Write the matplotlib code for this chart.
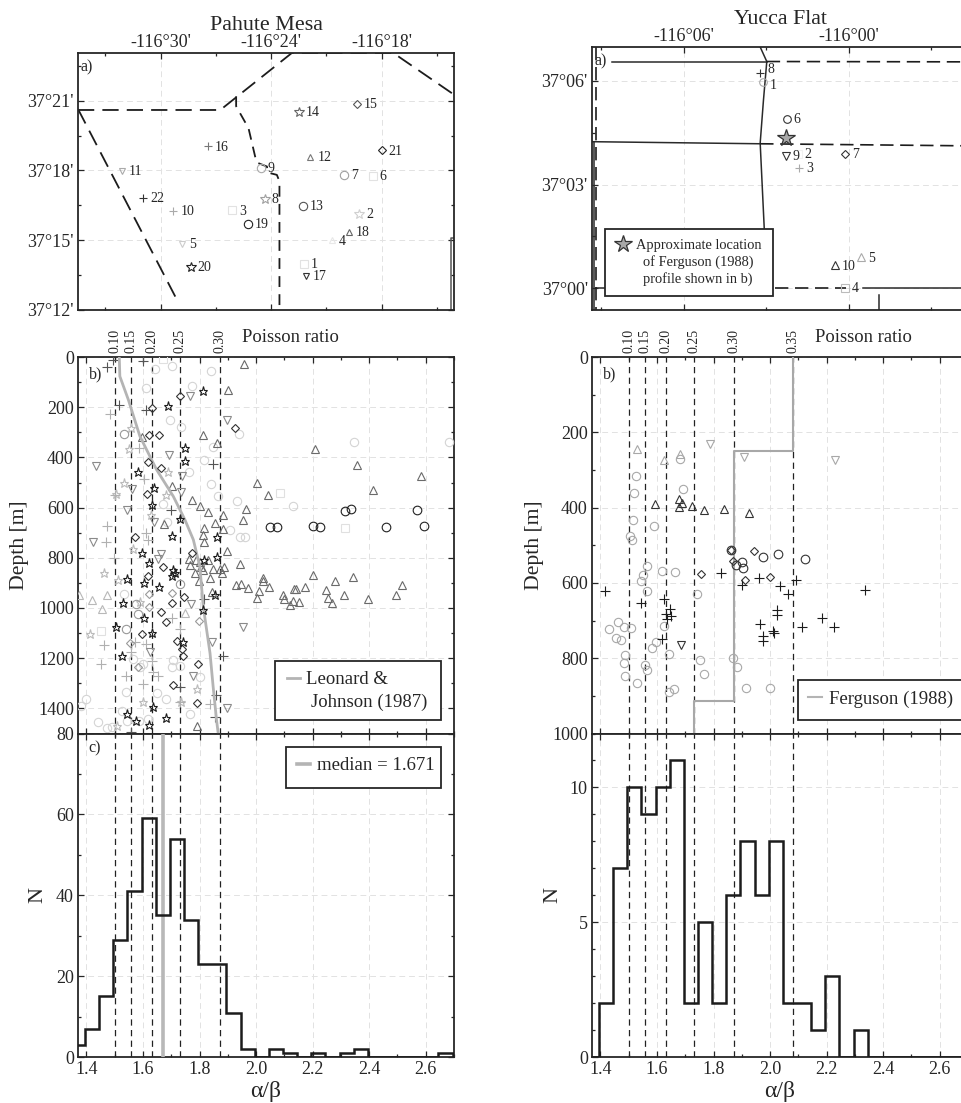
import matplotlib
matplotlib.use('Agg')
import matplotlib.pyplot as plt
from matplotlib.patches import Rectangle
from matplotlib.lines import Line2D
from matplotlib.ticker import FixedLocator, MultipleLocator, NullFormatter

plt.rcParams['font.family'] = ['Liberation Serif', 'DejaVu Serif']
plt.rcParams['text.color'] = '#262626'
plt.rcParams['axes.labelcolor'] = '#262626'
plt.rcParams['xtick.color'] = '#262626'
plt.rcParams['ytick.color'] = '#262626'

W, H = 961, 1103

# ---- data: Pahute Mesa ----
pm_station_lon = [22.21, 19.21, 26.10, 20.71, 28.84, 18.49, 20.04, 24.36, 24.56, 29.31, 32.10,
                  21.87, 22.28, 22.48, 19.36, 27.45, 22.10, 19.77, 25.26, 28.36, 18.00, 30.94]
pm_station_lat = [13.97, 16.12, 16.28, 14.99, 14.83, 17.77, 17.80, 16.79, 18.10, 16.26, 17.97,
                  18.57, 16.48, 20.53, 20.87, 19.03, 13.46, 15.37, 15.69, 13.87, 18.86, 16.82]
pm_station_marker = ['s', '*', 's', '^', 'v', 's', 'o', '*', 'o', '+', 'v',
                     '^', 'o', '*', 'D', '+', 'v', '^', 'o', '*', 'D', '+']
pm_station_gray = ['#e2e2e2', '#d0d0d0', '#e2e2e2', '#e8e8e8', '#cccccc', '#e2e2e2', '#a0a0a0', '#a0a0a0',
                   '#aaaaaa', '#aaaaaa', '#aaaaaa', '#777777', '#555555', '#666666', '#555555', '#777777',
                   '#333333', '#666666', '#222222', '#222222', '#222222', '#333333']

pm_border_west_lon = [34.48, 29.06]
pm_border_west_lat = [20.64, 12.36]
pm_border_north_lon = [34.48, 26.76, 22.88, 17.37, 14.08]
pm_border_north_lat = [20.60, 20.60, 23.05, 23.05, 21.26]
pm_border_mid_lon = [25.90, 25.90, 25.23, 24.87, 24.78, 24.23, 24.18, 23.69, 23.55, 23.55]
pm_border_mid_lat = [21.19, 20.76, 19.82, 18.60, 18.34, 18.17, 17.91, 17.81, 17.53, 12.00]

pm_star_dark_ab = [1.811, 1.687, 1.749, 1.749, 1.581, 1.640, 1.632, 1.730, 1.702, 1.863, 1.860, 1.595, 1.815,
                   1.622, 1.707, 1.713, 1.701, 1.542, 1.604, 1.656, 1.854, 1.530, 1.603, 1.811, 1.506, 1.632,
                   1.740, 1.527, 1.636, 1.542, 1.575, 1.683, 1.622]
pm_star_dark_d = [137, 197, 364, 413, 460, 523, 590, 647, 714, 717, 797, 779, 807,
                  820, 850, 859, 872, 886, 900, 916, 950, 980, 1040, 1007, 1074, 1100,
                  1134, 1192, 1393, 1423, 1449, 1439, 1465]
pm_star_light_ab = [1.557, 1.549, 1.687, 1.532, 1.503, 1.683, 1.627, 1.463, 1.412, 1.509, 1.601, 1.736,
                    1.589, 1.565, 1.512, 1.792]
pm_star_light_d = [281, 368, 457, 503, 546, 550, 630, 859, 1103, 1472, 1376, 1376, 976, 766, 890, 1323]

pm_diamond_dark_ab = [1.730, 1.631, 1.621, 1.655, 1.616, 1.664, 1.614, 1.573, 1.775, 1.671, 1.618, 1.745,
                      1.702, 1.663, 1.683, 1.595, 1.719, 1.737, 1.740, 1.793, 1.707, 1.792, 1.925]
pm_diamond_dark_d = [155, 202, 312, 312, 417, 441, 547, 719, 779, 836, 874, 955,
                     980, 1014, 1054, 1103, 1132, 1163, 1193, 1224, 1307, 1379, 281]
pm_diamond_mid_ab = [1.621, 1.799, 1.703, 1.553, 1.583, 1.622]
pm_diamond_mid_d = [996, 1050, 939, 1140, 1236, 946]

pm_tri_ab = [1.957, 1.902, 1.811, 1.595, 1.863, 2.208, 2.357, 2.582, 2.004, 2.415, 2.041, 1.703, 1.772, 1.801,
             1.831, 1.966, 1.884, 1.952, 1.854, 1.815, 1.674, 1.884, 1.813, 1.815, 1.898, 1.943, 1.761, 1.789,
             1.766, 1.801, 1.831, 1.804, 1.784, 1.813, 1.848, 1.872, 1.886, 1.837, 1.798, 1.881, 2.202, 2.344,
             2.279, 2.023, 2.025, 2.047, 1.945, 1.929, 1.971, 2.173, 2.141, 2.135, 2.247, 2.517, 2.311, 2.495,
             2.254, 2.267, 2.396, 2.002, 2.010, 2.096, 2.100, 2.132, 2.152, 2.120, 1.845, 1.792]
pm_tri_d = [28, 133, 310, 320, 341, 368, 430, 473, 503, 530, 550, 513, 571, 594,
            619, 606, 631, 650, 663, 681, 666, 687, 710, 739, 774, 826, 803, 807,
            830, 817, 810, 836, 859, 850, 843, 843, 836, 879, 892, 860, 870, 878,
            891, 879, 894, 915, 906, 907, 919, 916, 924, 924, 927, 907, 947, 947,
            959, 980, 964, 959, 932, 950, 966, 972, 978, 987, 936, 1469]
pm_tri_light_ab = [1.419, 1.474, 1.373, 1.455, 1.750]
pm_tri_light_d = [967, 948, 947, 1004, 1018]

pm_circle_dark_ab = [2.568, 2.335, 2.313, 2.049, 2.073, 2.202, 2.226, 2.458, 2.594]
pm_circle_dark_d = [610, 607, 613, 679, 677, 673, 678, 677, 673]
pm_circle_mid_ab = [1.533, 1.732, 1.576, 1.583, 1.539]
pm_circle_mid_d = [306, 903, 986, 1023, 1083]
pm_circle_light_ab = [1.612, 1.703, 1.642, 1.775, 1.697, 1.839, 1.734, 1.939, 1.848, 1.815, 1.761, 1.839, 1.866,
                      1.933, 1.671, 2.132, 1.686, 1.907, 1.943, 1.960, 1.532, 1.707, 1.565, 1.400, 1.382, 1.524,
                      1.439, 1.471, 1.489, 1.544, 1.586, 1.618, 1.680, 1.648, 1.589, 1.601, 1.539, 1.766, 1.801,
                      2.346, 2.683, 1.701, 1.730]
pm_circle_light_d = [124, 35, 48, 115, 250, 55, 277, 305, 360, 410, 460, 507, 554,
                     574, 586, 594, 659, 690, 717, 717, 943, 1207, 1203, 1363, 1389, 1409,
                     1455, 1479, 1473, 1449, 1449, 1443, 1363, 1340, 1236, 1223, 1333, 1423, 1276,
                     337, 340, 1236, 1233]
pm_square_light_ab = [2.315, 1.671, 2.084, 1.453]
pm_square_light_d = [683, 7, 543, 1090]

pm_plus_dark_ab = [1.600, 1.473, 1.494, 1.514, 1.848, 1.700, 1.884, 1.858, 1.854, 1.557, 1.730, 1.610, 1.815]
pm_plus_dark_d = [17, 40, 13, 193, 425, 611, 1192, 1348, 1436, 1495, 1313, 213, 963]
pm_plus_mid_ab = [1.483, 1.585, 1.603, 1.500, 1.471, 1.468, 1.610, 1.618, 1.497, 1.704, 1.730, 1.463, 1.450,
                  1.630, 1.559, 1.571, 1.612, 1.539, 1.636, 1.654, 1.601, 1.837, 1.730]
pm_plus_mid_d = [228, 364, 486, 550, 673, 737, 703, 730, 800, 1040, 1083, 1147, 1223,
                 1212, 1176, 1136, 1143, 1272, 1256, 1269, 1303, 1383, 1376]

pm_inv_ab = [1.766, 1.896, 1.693, 1.432, 1.560, 1.739, 1.736, 1.542, 1.640, 1.422, 1.663, 1.653, 1.955,
             1.768, 1.624, 1.845, 1.778, 1.896]
pm_inv_d = [157, 250, 390, 433, 526, 474, 538, 611, 657, 737, 783, 803, 1076,
            986, 1176, 1136, 1272, 1399]

lj_ab = [1.516, 1.518, 1.548, 1.589, 1.648, 1.707, 1.748, 1.778, 1.801, 1.813, 1.837, 1.848, 1.860, 1.866]
lj_d = [0, 77, 170, 316, 449, 555, 648, 728, 835, 994, 1180, 1313, 1446, 1500]

pm_hist = [3, 7, 15, 29, 41, 59, 35, 54, 34, 23, 23, 11, 2, 0, 2, 1, 0, 1, 0, 1, 2, 0, 0, 0, 0, 0, 1]
median_ab = 1.671

# ---- data: Yucca Flat ----
yf_station_lon = [3.11, 1.85, 1.80, 0.13, -0.45, 2.26, 0.15, 3.21, 2.29, 0.50]
yf_station_lat = [5.98, 3.88, 3.47, 0.00, 0.89, 4.89, 3.88, 6.24, 3.83, 0.66]
yf_station_marker = ['o', 's', '+', 's', '^', 'o', 'D', '+', 'v', '^']
yf_station_gray = ['#aaaaaa', '#f0f0f0', '#aaaaaa', '#bbbbbb', '#aaaaaa', '#333333', '#333333', '#333333',
                   '#333333', '#333333']
ferguson_lon = 2.29
ferguson_lat = 4.34

yf_solid_lines = [([8.60, 2.98], [6.56, 6.56]),
                  ([3.22, 2.98, 3.10, 3.22, 3.07], [6.98, 6.56, 5.45, 4.20, 1.69]),
                  ([9.33, 3.22], [4.24, 4.18]),
                  ([9.25, 9.25], [4.24, -0.63]),
                  ([9.20, 8.85], [0.0, 0.0]),
                  ([-0.53, -4.33], [0.0, 0.0]),
                  ([-1.11, -1.11], [-0.19, -0.63])]
yf_dashed_lines = [([2.98, -4.33], [6.56, 6.55]),
                   ([3.22, -4.33], [4.18, 4.12]),
                   ([9.18, 9.18], [6.98, -0.63]),
                   ([2.67, 0.10], [0.0, 0.0])]

yf_circle_light_ab = [1.681, 1.527, 1.692, 1.518, 1.516, 1.590, 1.504, 1.510, 1.566, 1.551, 1.543, 1.565, 1.616,
                      1.662, 1.740, 1.462, 1.431, 1.484, 1.508, 1.624, 1.454, 1.473, 1.595, 1.583, 1.643, 1.488,
                      1.483, 1.559, 1.563, 1.751, 1.869, 1.883, 1.765, 1.488, 1.530, 1.661, 1.643, 1.915, 2.001]
yf_circle_light_d = [270, 315, 351, 361, 432, 450, 475, 487, 556, 578, 596, 622, 569,
                     572, 629, 705, 723, 717, 720, 714, 746, 751, 758, 772, 788, 792,
                     812, 819, 831, 806, 799, 824, 841, 847, 866, 881, 891, 878, 879]
yf_circle_dark_ab = [1.860, 1.975, 2.028, 2.122, 1.902, 1.881, 1.905]
yf_circle_dark_d = [512, 531, 523, 536, 545, 553, 561]
yf_diamond_ab = [1.860, 1.944, 1.869, 1.755, 1.911, 2.000]
yf_diamond_d = [512, 514, 541, 576, 591, 584]
yf_tri_dark_ab = [1.593, 1.678, 1.687, 1.678, 1.723, 1.765, 1.836, 1.926]
yf_tri_dark_d = [390, 376, 387, 398, 395, 406, 404, 414]
yf_tri_light_ab = [1.529, 1.624, 1.681]
yf_tri_light_d = [244, 273, 257]
yf_inv_light_ab = [1.789, 1.906, 2.231]
yf_inv_light_d = [232, 265, 273]
yf_inv_dark_ab = [1.684]
yf_inv_dark_d = [764]
yf_plus_ab = [1.415, 1.827, 1.961, 1.899, 2.093, 2.034, 2.064, 2.335, 1.624, 1.543, 1.645, 2.023, 2.026,
              1.633, 1.648, 1.636, 1.964, 2.182, 2.113, 2.227, 2.011, 2.015, 1.975, 1.975, 1.618]
yf_plus_d = [621, 574, 588, 606, 592, 608, 629, 618, 643, 654, 670, 673, 684,
             682, 689, 695, 710, 693, 718, 717, 727, 733, 742, 755, 748]

ferg_ab = [2.082, 2.082, 1.871, 1.871, 1.732, 1.732]
ferg_d = [0, 250, 250, 915, 915, 1000]

yf_hist = [0, 2, 7, 10, 9, 10, 11, 2, 5, 2, 6, 8, 6, 8, 2, 2, 1, 3, 0, 1, 0, 0, 0, 0, 0, 0, 0]
hist_edges = [1.345 + 0.05 * i for i in range(28)]

# Poisson ratio labels and the alpha/beta they sit at
poisson_labels = ['0.10', '0.15', '0.20', '0.25', '0.30', '0.35']
poisson_ab = [1.500, 1.558, 1.633, 1.732, 1.871, 2.082]


def make_axes(left, top, right, bottom):
    return fig.add_axes([left / W, 1 - bottom / H, (right - left) / W, (bottom - top) / H])


def style(ax):
    ax.tick_params(which='both', direction='in', top=True, right=True, width=0.9, labelsize=13)
    ax.tick_params(which='major', length=4.5, pad=3)
    ax.tick_params(which='minor', length=2.5)
    for s in ax.spines.values():
        s.set_linewidth(1.3)
        s.set_color('#262626')
    ax.grid(True, which='major', color='#e2e2e2', ls=(0, (6, 4)), lw=0.7)
    ax.set_axisbelow(True)


def pts(ax, x, y, marker, color, size=6):
    ax.plot(x, y, ls='none', marker=marker, ms=size, mfc='none', mec=color, mew=0.8, zorder=3)


def map_panel(ax, xlim, ylim, lon_ticks, lat_ticks):
    style(ax)
    ax.set_xlim(*xlim)
    ax.set_ylim(*ylim)
    ax.xaxis.set_major_locator(FixedLocator(lon_ticks))
    ax.xaxis.set_minor_locator(MultipleLocator(3))
    ax.yaxis.set_major_locator(FixedLocator(lat_ticks))
    ax.yaxis.set_minor_locator(MultipleLocator(1.5))
    ax.set_xticklabels(["-116°%02d'" % m for m in lon_ticks])
    ax.set_yticklabels(["37°%02d'" % m for m in lat_ticks])
    ax.tick_params(axis='x', labeltop=True, labelbottom=False, pad=1.5)


def depth_panel(ax, ymax, n_poisson):
    style(ax)
    ax.set_xlim(1.37, 2.70)
    ax.set_ylim(ymax, 0)
    ax.xaxis.set_major_locator(MultipleLocator(0.2))
    ax.xaxis.set_minor_locator(MultipleLocator(0.1))
    ax.yaxis.set_major_locator(MultipleLocator(200))
    ax.yaxis.set_minor_locator(MultipleLocator(100))
    ax.xaxis.set_major_formatter(NullFormatter())
    for i in range(n_poisson):
        ax.axvline(poisson_ab[i], color='#222222', lw=0.9, ls=(0, (5, 3.5)), zorder=2)
        ax.annotate(poisson_labels[i], (poisson_ab[i], 0), xytext=(0, 3), textcoords='offset points',
                    rotation=90, ha='center', va='bottom', fontsize=10, annotation_clip=False)


def hist_panel(ax, values, ymax, major, minor, n_poisson):
    style(ax)
    ax.set_xlim(1.37, 2.70)
    ax.set_ylim(0, ymax)
    ax.xaxis.set_major_locator(MultipleLocator(0.2))
    ax.xaxis.set_minor_locator(MultipleLocator(0.1))
    ax.yaxis.set_major_locator(MultipleLocator(major))
    ax.yaxis.set_minor_locator(MultipleLocator(minor))
    ax.xaxis.set_major_formatter(lambda v, p: '%.1f' % v)
    for i in range(n_poisson):
        ax.axvline(poisson_ab[i], color='#222222', lw=0.9, ls=(0, (5, 3.5)), zorder=2)
    ax.stairs(values, hist_edges, color='#1c1c1c', lw=1.8, zorder=4)


def fig_box(x0, y0, x1, y1):
    fig.add_artist(Rectangle((x0 / W, 1 - y1 / H), (x1 - x0) / W, (y1 - y0) / H, transform=fig.transFigure,
                             fc='white', ec='#262626', lw=1.3, zorder=5))


def fig_line(x0, x1, y, color='#b4b4b4', lw=2.0):
    fig.add_artist(Line2D([x0 / W, x1 / W], [1 - y / H, 1 - y / H], color=color, lw=lw, zorder=6))


def fig_text(x, y, s, **kw):
    kw.setdefault('va', 'center')
    kw.setdefault('zorder', 6)
    fig.text(x / W, 1 - y / H, s, **kw)


fig = plt.figure(figsize=(W / 100, H / 100), dpi=100)

# ---- Pahute Mesa map ----
ax = make_axes(78, 53, 454, 310)
map_panel(ax, (34.48, 14.08), (12, 23.05), [30, 24, 18], [12, 15, 18, 21])
dash = (0, (9, 4.5))
ax.plot(pm_border_west_lon, pm_border_west_lat, color='#1c1c1c', lw=1.3, ls=dash)
ax.plot(pm_border_north_lon, pm_border_north_lat, color='#1c1c1c', lw=1.3, ls=dash)
ax.plot(pm_border_mid_lon, pm_border_mid_lat, color='#1c1c1c', lw=1.3, ls=(0, (6, 4)))
for i in range(len(pm_station_lon)):
    sz = 7 if pm_station_marker[i] == '*' else 6
    if pm_station_marker[i] == 'D':
        sz = 4.2
    if pm_station_marker[i] in ('^', 'v'):
        sz = 5
    pts(ax, pm_station_lon[i], pm_station_lat[i], pm_station_marker[i], pm_station_gray[i], size=sz)
    ax.annotate(str(i + 1), (pm_station_lon[i], pm_station_lat[i]), xytext=(5, -0.5), textcoords='offset points',
                va='center', fontsize=10)
ax.plot([14.26, 14.26, 14.08], [12, 15.09, 15.09], color='#555555', lw=1.1)
ax.text(0.006, 0.945, 'a)', transform=ax.transAxes, fontsize=11.5, va='center')

# ---- Yucca Flat map ----
ax = make_axes(592, 47, 968, 310)
map_panel(ax, (9.33, -4.33), (-0.63, 6.98), [6, 0], [0, 3, 6])
for x, y in yf_solid_lines:
    ax.plot(x, y, color='#2a2a2a', lw=1.1)
for x, y in yf_dashed_lines:
    ax.plot(x, y, color='#1c1c1c', lw=1.2, ls=(0, (8, 4)))
for i in range(len(yf_station_lon)):
    sz = 4.2 if yf_station_marker[i] == 'D' else 5.5
    pts(ax, yf_station_lon[i], yf_station_lat[i], yf_station_marker[i], yf_station_gray[i], size=sz)
    # 8 and 1 sit almost on top of each other, so push them apart a little
    dy = {0: -3, 7: 2.5}.get(i, -0.5)
    ax.annotate(str(i + 1), (yf_station_lon[i], yf_station_lat[i]), xytext=(5, dy), textcoords='offset points',
                va='center', fontsize=10)
ax.plot(ferguson_lon, ferguson_lat, marker='*', ms=13, mfc='#a8a8a8', mec='#333333', mew=0.9, zorder=4)
ax.text(0.006, 0.945, 'a)', transform=ax.transAxes, fontsize=11.5, va='center')

# ---- Pahute Mesa depth ----
ax = make_axes(78, 357, 454, 733.5)
depth_panel(ax, 1500, 5)
pts(ax, pm_circle_light_ab, pm_circle_light_d, 'o', '#d4d4d4', 6)
pts(ax, pm_square_light_ab, pm_square_light_d, 's', '#e0e0e0', 5.5)
pts(ax, pm_star_light_ab, pm_star_light_d, '*', '#bbbbbb', 6.5)
pts(ax, pm_plus_mid_ab, pm_plus_mid_d, '+', '#b0b0b0', 6.5)
pts(ax, pm_tri_light_ab, pm_tri_light_d, '^', '#b8b8b8', 5.5)
pts(ax, pm_inv_ab, pm_inv_d, 'v', '#8a8a8a', 5.5)
pts(ax, pm_diamond_mid_ab, pm_diamond_mid_d, 'D', '#999999', 4.2)
pts(ax, pm_tri_ab, pm_tri_d, '^', '#6a6a6a', 5.5)
pts(ax, pm_circle_mid_ab, pm_circle_mid_d, 'o', '#999999', 6)
pts(ax, pm_plus_dark_ab, pm_plus_dark_d, '+', '#555555', 6.5)
ax.plot(lj_ab, lj_d, color='#b4b4b4', lw=2.0, zorder=3)
pts(ax, pm_circle_dark_ab, pm_circle_dark_d, 'o', '#222222', 6.2)
pts(ax, pm_diamond_dark_ab, pm_diamond_dark_d, 'D', '#333333', 4.2)
pts(ax, pm_star_dark_ab, pm_star_dark_d, '*', '#1c1c1c', 6.5)
ax.text(0.028, 0.9535, 'b)', transform=ax.transAxes, fontsize=11.5, va='center', zorder=5)
ax.set_yticks([0, 200, 400, 600, 800, 1000, 1200, 1400])

# ---- Yucca Flat depth ----
ax = make_axes(592, 357, 968, 733.5)
depth_panel(ax, 1000, 6)
pts(ax, yf_circle_light_ab, yf_circle_light_d, 'o', '#a8a8a8', 6)
pts(ax, yf_tri_light_ab, yf_tri_light_d, '^', '#a8a8a8', 5.5)
pts(ax, yf_inv_light_ab, yf_inv_light_d, 'v', '#a8a8a8', 5.5)
ax.plot(ferg_ab, ferg_d, color='#a8a8a8', lw=1.5, zorder=3)
pts(ax, yf_circle_dark_ab, yf_circle_dark_d, 'o', '#333333', 6.2)
pts(ax, yf_diamond_ab, yf_diamond_d, 'D', '#333333', 4.2)
pts(ax, yf_tri_dark_ab, yf_tri_dark_d, '^', '#333333', 5.5)
pts(ax, yf_inv_dark_ab, yf_inv_dark_d, 'v', '#333333', 5.5)
pts(ax, yf_plus_ab, yf_plus_d, '+', '#1c1c1c', 6.5)
ax.text(0.028, 0.9535, 'b)', transform=ax.transAxes, fontsize=11.5, va='center', zorder=5)

# ---- histograms ----
ax = make_axes(78, 733.5, 454, 1057)
hist_panel(ax, pm_hist, 80, 20, 10, 5)
ax.axvline(median_ab, color='#b8b8b8', lw=2.6, zorder=3)
ax.text(0.028, 0.9535, 'c)', transform=ax.transAxes, fontsize=11.5, va='center')

ax = make_axes(592, 733.5, 968, 1057)
hist_panel(ax, yf_hist, 12, 5, 1, 6)

# ---- titles, axis labels, legends placed by hand ----
fig_text(266, 25, 'Pahute Mesa', ha='center', fontsize=15.8)
fig_text(780, 19, 'Yucca Flat', ha='center', fontsize=15.8)
fig_text(242, 337, 'Poisson ratio', fontsize=13.4)
fig_text(815, 337, 'Poisson ratio', fontsize=13.4)
fig_text(20, 545, 'Depth [m]', rotation=90, ha='center', fontsize=15.6)
fig_text(534, 545, 'Depth [m]', rotation=90, ha='center', fontsize=15.6)
fig_text(38, 895, 'N', rotation=90, ha='center', fontsize=16)
fig_text(553, 895, 'N', rotation=90, ha='center', fontsize=16)
fig_text(266, 1091, 'α/β', ha='center', fontsize=17)
fig_text(780, 1091, 'α/β', ha='center', fontsize=17)

fig_box(275.3, 661, 440.7, 720)
fig_line(286.7, 300, 678)
fig_text(306, 679, 'Leonard &', fontsize=13.5)
fig_text(311, 702, 'Johnson (1987)', fontsize=13.5)

fig_box(285.7, 747, 440.7, 788)
fig_line(296.7, 310, 764, lw=2.6)
fig_text(317, 765, 'median = 1.671', fontsize=13.5)

fig_box(798, 680, 975, 720)
fig_line(808, 822, 697, lw=1.5)
fig_text(829, 699, 'Ferguson (1988)', fontsize=13.5)

fig_box(605, 229, 773, 296)
fig.add_artist(Line2D([622.7 / W], [1 - 244 / H], marker='*', ms=13, mfc='#a8a8a8', mec='#333333', mew=0.9,
                      ls='none', zorder=6))
fig_text(636, 246, 'Approximate location', fontsize=10.4)
fig_text(698, 262, 'of Ferguson (1988)', ha='center', fontsize=10.4)
fig_text(698, 279, 'profile shown in b)', ha='center', fontsize=10.4)

fig.savefig('out.png', dpi=100)
